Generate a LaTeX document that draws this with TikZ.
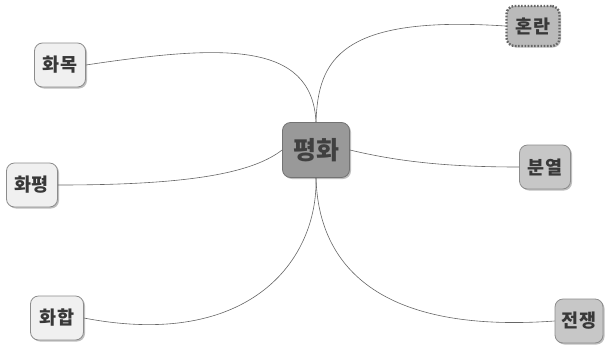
\documentclass[tikz,border=0pt]{standalone}
\usepackage{fontspec}
\newfontfamily\kr{Noto Sans CJK KR}
\usetikzlibrary{shadows}
\tikzset{
  x=1pt, y=-1pt,
  base/.style={rounded corners=8pt, inner sep=0pt, font=\kr\bfseries\fontsize{18.5}{20}\selectfont,
    text=black!78, line width=0.8pt,
    drop shadow={shadow xshift=1.5pt, shadow yshift=-1.5pt, opacity=0.25, fill=black}},
  light/.style={base, fill=black!6, draw=black!45},
  mid/.style={base, fill=black!22, draw=black!45},
  chaos/.style={base, fill=black!27, draw=black!60, dash pattern=on 1.6pt off 1.6pt, line width=2.4pt},
  center/.style={base, fill=black!40, draw=black!55, font=\kr\bfseries\fontsize{25}{27}\selectfont, text=black!75},
  link/.style={draw=black!60, line width=0.6pt}
}
\begin{document}
\begin{tikzpicture}
\useasboundingbox (0,0) rectangle (605,346);
\node[center, minimum width=67pt, minimum height=55pt] (peace) at (316,150) {평화};
\node[light, minimum width=51pt, minimum height=44pt] (hm) at (60,65) {화목};
\node[light, minimum width=51pt, minimum height=44pt] (hp) at (32,185) {화평};
\node[light, minimum width=53pt, minimum height=44pt] (hh) at (57,318) {화합};
\node[chaos, minimum width=53pt, minimum height=40pt] (hr) at (533,26) {혼란};
\node[mid, minimum width=51pt, minimum height=44pt] (by) at (545,167) {분열};
\node[mid, minimum width=48pt, minimum height=44pt] (jj) at (579,321) {전쟁};
\draw[link] (hm.east) .. controls (220,45) and (312,40) .. (peace.north);
\draw[link] (hr.west) .. controls (340,15) and (318,60) .. (peace.north);
\draw[link] (hp.east) .. controls (180,185) and (250,175) .. (peace.west);
\draw[link] (peace.east) .. controls (400,162) and (450,167) .. (by.west);
\draw[link] (hh.east) .. controls (250,350) and (318,260) .. (peace.south);
\draw[link] (jj.west) .. controls (360,335) and (318,250) .. (peace.south);
\end{tikzpicture}
\end{document}
